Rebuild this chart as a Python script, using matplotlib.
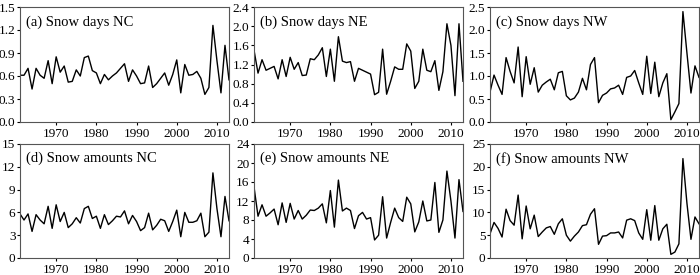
import numpy as np
import matplotlib
matplotlib.use('Agg')
import matplotlib.pyplot as plt

# 年份
years = np.arange(1961, 2014)

# 积雪日数
days_nc = [0.61, 0.61, 0.70, 0.43, 0.70, 0.61, 0.57, 0.80, 0.50, 0.85,
           0.65, 0.73, 0.52, 0.53, 0.68, 0.60, 0.84, 0.86, 0.67, 0.64,
           0.50, 0.62, 0.55, 0.60, 0.64, 0.70, 0.76, 0.53, 0.68, 0.60,
           0.50, 0.51, 0.73, 0.45, 0.50, 0.57, 0.64, 0.48, 0.62, 0.81,
           0.38, 0.75, 0.61, 0.62, 0.66, 0.57, 0.36, 0.45, 1.26, 0.80,
           0.38, 1.00, 0.55]
days_ne = [1.50, 1.02, 1.30, 1.08, 1.12, 1.16, 0.90, 1.30, 0.95, 1.35,
           1.10, 1.24, 0.97, 0.98, 1.32, 1.30, 1.40, 1.55, 0.95, 1.52,
           0.85, 1.78, 1.27, 1.24, 1.26, 0.85, 1.12, 1.08, 1.04, 1.00,
           0.57, 0.62, 1.52, 0.58, 0.85, 1.15, 1.10, 1.10, 1.63, 1.48,
           0.70, 0.85, 1.52, 1.08, 1.05, 1.28, 0.66, 1.05, 2.05, 1.60,
           0.55, 2.05, 0.85]
days_nw = [0.65, 1.02, 0.80, 0.60, 1.40, 1.10, 0.85, 1.63, 0.55, 1.42,
           0.82, 1.18, 0.65, 0.80, 0.87, 0.93, 0.70, 1.07, 1.10, 0.57,
           0.48, 0.52, 0.65, 0.95, 0.70, 1.25, 1.40, 0.42, 0.58, 0.63,
           0.72, 0.74, 0.80, 0.60, 0.97, 1.00, 1.12, 0.85, 0.60, 1.43,
           0.62, 1.30, 0.55, 0.85, 1.05, 0.05, 0.22, 0.40, 2.40, 1.50,
           0.63, 1.22, 0.97]

# 积雪量
amt_nc = [5.8, 5.0, 5.8, 3.5, 5.7, 5.0, 4.5, 6.8, 3.9, 7.0,
          4.8, 6.0, 4.0, 4.5, 5.3, 4.6, 6.5, 6.8, 5.2, 5.5,
          3.9, 5.7, 4.4, 4.9, 5.5, 5.4, 6.2, 4.5, 5.6, 4.8,
          3.6, 4.0, 5.9, 3.7, 4.3, 5.1, 4.9, 3.5, 4.8, 6.3,
          2.8, 6.0, 4.7, 4.7, 4.9, 5.9, 2.8, 3.4, 11.2, 6.5,
          2.8, 8.1, 4.9]
amt_ne = [15.0, 8.8, 11.2, 8.8, 9.5, 10.3, 7.0, 11.6, 7.5, 11.5,
          8.2, 10.0, 8.2, 9.0, 10.1, 10.0, 10.5, 11.4, 7.4, 14.2,
          6.5, 16.4, 9.9, 10.5, 10.0, 6.2, 8.9, 9.6, 8.2, 8.5,
          3.8, 4.8, 12.9, 4.2, 7.5, 10.5, 8.5, 7.7, 12.8, 11.4,
          5.5, 7.6, 12.0, 7.8, 8.0, 15.9, 5.4, 8.0, 18.3, 12.0,
          4.2, 16.5, 9.8]
amt_nw = [5.3, 7.8, 6.5, 4.6, 10.7, 8.2, 7.2, 13.8, 4.2, 11.4,
          6.4, 9.4, 4.7, 5.7, 6.6, 6.9, 5.2, 7.5, 8.6, 5.0,
          3.7, 4.8, 5.7, 7.1, 7.3, 9.6, 10.8, 3.0, 4.8, 4.9,
          5.5, 5.5, 5.7, 4.4, 8.3, 8.6, 8.2, 5.5, 4.1, 10.6,
          3.9, 11.5, 3.9, 6.4, 7.4, 0.8, 1.3, 3.1, 21.8, 12.0,
          4.1, 9.0, 7.5]

titles = ['(a) Snow days NC', '(b) Snow days NE', '(c) Snow days NW',
          '(d) Snow amounts NC', '(e) Snow amounts NE', '(f) Snow amounts NW']
series = [days_nc, days_ne, days_nw, amt_nc, amt_ne, amt_nw]
yticks = [np.arange(0, 1.51, 0.3), np.arange(0, 2.41, 0.4), np.arange(0, 2.51, 0.5),
          np.arange(0, 16, 3), np.arange(0, 25, 4), np.arange(0, 26, 5)]
yfmt = ['%.1f', '%.1f', '%.1f', '%d', '%d', '%d']

plt.rcParams['font.family'] = ['Liberation Serif', 'DejaVu Serif']
plt.rcParams['font.size'] = 10

fig = plt.figure(figsize=(7, 2.75), dpi=100)

lefts = [20, 254, 490]
width = 209
rows = [(7, 122), (144, 258)]

for i in range(6):
    r, c = divmod(i, 3)
    top, bot = rows[r]
    ax = fig.add_axes([lefts[c] / 700, 1 - bot / 275, width / 700, (bot - top) / 275])
    ax.plot(years, series[i], color='black', lw=1)
    ax.set_xlim(1961, 2013)
    ax.set_ylim(yticks[i][0], yticks[i][-1])
    ax.set_xticks([1970, 1980, 1990, 2000, 2010])
    ax.set_yticks(yticks[i])
    ax.set_yticklabels([yfmt[i] % v for v in yticks[i]])
    ax.tick_params(direction='out', length=2.5, width=0.8, labelsize=9.5)
    ax.tick_params(axis='y', pad=0.8)
    ax.tick_params(axis='x', pad=1.5)
    for s in ax.spines.values():
        s.set_color('#555555')
        s.set_linewidth(0.8)
    ax.text(0.03, 0.93, titles[i], transform=ax.transAxes, ha='left', va='top', fontsize=10.5)

fig.savefig('out.png', dpi=100)
